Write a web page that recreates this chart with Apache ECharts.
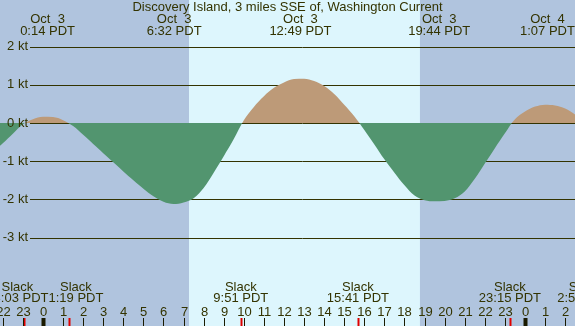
<!DOCTYPE html>
<html>
<head>
<meta charset="utf-8">
<script src="https://cdn.jsdelivr.net/npm/echarts@6/dist/echarts.min.js"></script>
<style>
  html, body { margin: 0; padding: 0; }
  #chart { width: 575px; height: 326px; }
</style>
</head>
<body>
<div id="chart"></div>
<script>
// hours are counted from Oct 3 0:00 PDT
var hours = [-2.5, -2, -1.5, -1, -0.5, 0, 0.5, 1, 1.5, 2, 2.5, 3, 3.5, 4, 4.5, 5, 5.5, 6, 6.5, 7,
  7.5, 8, 8.5, 9, 9.5, 10, 10.5, 11, 11.5, 12, 12.5, 13, 13.5, 14, 14.5, 15, 15.5, 16, 16.5, 17,
  17.5, 18, 18.5, 19, 19.5, 20, 20.5, 21, 21.5, 22, 22.5, 23, 23.5, 24, 24.5, 25, 25.5, 26, 26.5, 27];
var speed = [-0.76, -0.53, -0.28, -0.03, 0.10, 0.165, 0.155, 0.075, -0.08, -0.31, -0.55, -0.79, -1.03, -1.27, -1.5, -1.72, -1.92, -2.06, -2.12, -2.08,
  -1.97, -1.7, -1.3, -0.87, -0.42, 0.07, 0.42, 0.7, 0.92, 1.06, 1.15, 1.16, 1.1, 0.97, 0.76, 0.48, 0.18, -0.18, -0.56, -0.95,
  -1.3, -1.63, -1.9, -2.02, -2.05, -2.04, -1.97, -1.79, -1.46, -1.06, -0.66, -0.27, 0.1, 0.3, 0.43, 0.48, 0.46, 0.38, 0.22, 0.0];

var maxHours = [0.23, 6.53, 12.82, 19.73, 25.12];
var maxDates = ['Oct  3', 'Oct  3', 'Oct  3', 'Oct  3', 'Oct  4'];
var maxTimes = ['0:14 PDT', '6:32 PDT', '12:49 PDT', '19:44 PDT', '1:07 PDT'];

var slackHours = [-0.95, 1.32, 9.85, 15.68, 23.25, 26.97];
var slackTimes = ['23:03 PDT', '1:19 PDT', '9:51 PDT', '15:41 PDT', '23:15 PDT', '2:58 PDT'];

var hourTicks = [-2, -1, 0, 1, 2, 3, 4, 5, 6, 7, 8, 9, 10, 11, 12, 13, 14, 15, 16, 17, 18, 19, 20, 21, 22, 23, 24, 25, 26];
var ktLevels = [2, 1, 0, -1, -2, -3];

var sunrise = 7.27, sunset = 18.77;
var xMin = -2.14, xMax = 26.49;
var yMin = -5.314, yMax = 3.22;

var ink = '#333300';
var floodColor = '#bd9a78';
var ebbColor = '#52956f';
var font = '"Liberation Sans", Arial, sans-serif';

var chart = echarts.init(document.getElementById('chart'));

var measure = document.createElement('canvas').getContext('2d');
measure.font = '13px ' + font;

function txt(x, y, s, align) {
  return {
    type: 'text',
    style: { x: x, y: y, text: s, fill: ink, fontSize: 13, fontFamily: font,
      align: align || 'center', verticalAlign: 'middle' }
  };
}

// slack labels get pushed apart when they collide
function slackCenters(api) {
  var c = slackHours.map(function (h) { return api.coord([h, 0])[0]; });
  for (var i = 1; i < c.length; i++) {
    var need = (measure.measureText(slackTimes[i - 1]).width + measure.measureText(slackTimes[i]).width) / 2;
    var gap = c[i] - c[i - 1];
    if (gap < need) {
      c[i - 1] -= (need - gap) / 2;
      c[i] += (need - gap) / 2;
    }
  }
  return c;
}

// flood above the zero line, ebb below it
var zeroAt = yMax / (yMax - yMin);
var flowFill = {
  type: 'linear', x: 0, y: 0, x2: 0, y2: 1,
  colorStops: [
    { offset: 0, color: floodColor },
    { offset: zeroAt, color: floodColor },
    { offset: zeroAt, color: ebbColor },
    { offset: 1, color: ebbColor }
  ]
};

var option = {
  backgroundColor: '#b0c4de',
  animation: false,
  grid: { left: 0, right: 0, top: 0, bottom: 0 },
  xAxis: { type: 'value', min: xMin, max: xMax, show: false },
  yAxis: { type: 'value', min: yMin, max: yMax, show: false },
  graphic: [{
    type: 'text',
    x: 287.5,
    y: 7.5,
    z: 10,
    style: {
      text: 'Discovery Island, 3 miles SSE of, Washington Current',
      fill: ink, fontSize: 13, fontFamily: font, align: 'center', verticalAlign: 'middle'
    }
  }],
  series: [
    {
      // daylight
      type: 'custom',
      z: 0,
      silent: true,
      data: [[sunrise, sunset]],
      renderItem: function (params, api) {
        var x0 = api.coord([api.value(0), 0])[0];
        var x1 = api.coord([api.value(1), 0])[0];
        return {
          type: 'rect',
          shape: { x: x0, y: params.coordSys.y, width: x1 - x0, height: params.coordSys.height },
          style: { fill: '#ddf6fd' }
        };
      }
    },
    {
      // kt grid lines
      type: 'custom',
      z: 1,
      silent: true,
      data: ktLevels,
      renderItem: function (params, api) {
        var y = Math.round(api.coord([0, ktLevels[params.dataIndex]])[1]) + 0.5;
        return {
          type: 'line',
          shape: { x1: 30, y1: y, x2: params.coordSys.x + params.coordSys.width, y2: y },
          style: { stroke: ink, lineWidth: 1 }
        };
      }
    },
    {
      type: 'line',
      z: 2,
      smooth: 0.35,
      showSymbol: false,
      silent: true,
      clip: true,
      lineStyle: { width: 0 },
      areaStyle: { opacity: 1, color: {
        type: 'linear', x: 0, y: 0, x2: 0, y2: 326, global: true,
        colorStops: flowFill.colorStops
      } },
      data: hours.map(function (h, i) { return [h, speed[i]]; })
    },
    {
      // kt labels
      type: 'custom',
      z: 3,
      silent: true,
      data: ktLevels,
      renderItem: function (params, api) {
        var v = ktLevels[params.dataIndex];
        var y = api.coord([0, v])[1];
        return txt(28, y, v + ' kt', 'right');
      }
    },
    {
      // max flood / ebb times at the top
      type: 'custom',
      z: 3,
      silent: true,
      data: maxHours,
      renderItem: function (params, api) {
        var i = params.dataIndex;
        var x = api.coord([maxHours[i], 0])[0];
        return {
          type: 'group',
          children: [txt(x, 19, maxDates[i]), txt(x, 31.5, maxTimes[i])]
        };
      }
    },
    {
      // slack times at the bottom
      type: 'custom',
      z: 3,
      silent: true,
      data: slackHours,
      renderItem: function (params, api) {
        var i = params.dataIndex;
        var c = slackCenters(api);
        var xt = Math.round(api.coord([slackHours[i], 0])[0]) + 0.5;
        return {
          type: 'group',
          children: [
            txt(c[i], 287, 'Slack'),
            txt(c[i], 298.5, slackTimes[i]),
            { type: 'line', shape: { x1: xt, y1: 318, x2: xt, y2: 326 }, style: { stroke: '#e00000', lineWidth: 2 } }
          ]
        };
      }
    },
    {
      // hour ticks and labels
      type: 'custom',
      z: 3,
      silent: true,
      data: hourTicks,
      renderItem: function (params, api) {
        var h = hourTicks[params.dataIndex];
        var x = Math.round(api.coord([h, 0])[0]) + 0.5;
        var lab = ((h % 24) + 24) % 24;
        var midnight = lab === 0;
        return {
          type: 'group',
          children: [
            txt(x, 312, String(lab)),
            { type: 'line', shape: { x1: x, y1: 318, x2: x, y2: 326 }, style: { stroke: '#1a1a00', lineWidth: midnight ? 4 : 1 } }
          ]
        };
      }
    }
  ]
};

chart.setOption(option);
</script>
</body>
</html>
